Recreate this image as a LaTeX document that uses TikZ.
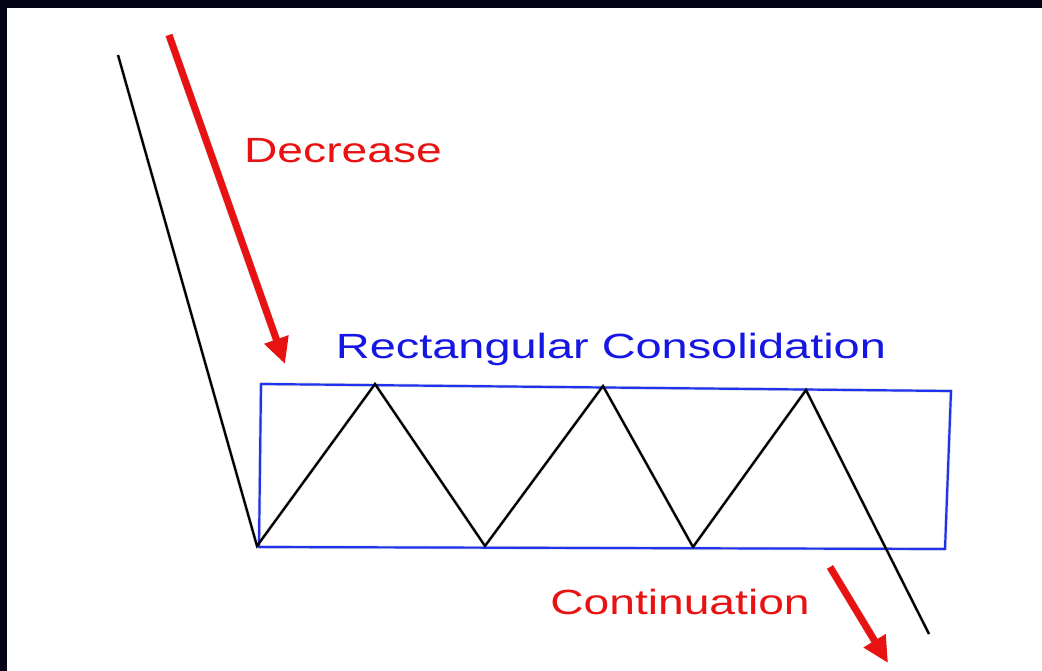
\documentclass[tikz,border=0pt]{standalone}
\usepackage{fontspec}
\setmainfont{Liberation Sans}
\usetikzlibrary{arrows.meta}
\definecolor{frameC}{RGB}{4,4,24}
\definecolor{redC}{RGB}{232,18,18}
\definecolor{blueT}{RGB}{22,22,228}
\definecolor{blueL}{RGB}{30,50,240}
\tikzset{
  priceline/.style={draw=black, line width=2.3bp, line join=miter},
  shadowline/.style={draw=black!35, line width=3.5bp, opacity=0.35, line join=round},
  rangebox/.style={draw=blueL, line width=2.2bp},
  trendarrow/.style={draw=redC, line width=7bp, -{Triangle[length=26bp,width=24bp]}},
  arrowshadow/.style={draw=black!40, opacity=0.3, line width=8bp, -{Triangle[length=26bp,width=24bp]}},
  redlabel/.style={text=redC, font=\fontsize{35bp}{40bp}\selectfont, inner sep=0pt},
  bluelabel/.style={text=blueT, font=\fontsize{35bp}{40bp}\selectfont, inner sep=0pt},
}
\begin{document}
\begin{tikzpicture}[x=1bp,y=-1bp]
\useasboundingbox (0,0) rectangle (1042,671);
\fill[white] (0,0) rectangle (1042,671);
\fill[frameC] (0,0) rectangle (1042,8);
\fill[frameC] (0,0) rectangle (7,671);
% price path points
\coordinate (p0) at (118,55);
\coordinate (p1) at (257,546);
\coordinate (p2) at (375,384);
\coordinate (p3) at (485,546);
\coordinate (p4) at (603,386);
\coordinate (p5) at (693,547);
\coordinate (p6) at (806,390);
\coordinate (p7) at (929,634);
% box corners
\coordinate (b1) at (261,384);
\coordinate (b2) at (951,391);
\coordinate (b3) at (945,549);
\coordinate (b4) at (259,547);
% arrows
\coordinate (a1s) at (169,35);
\coordinate (a1e) at (285,364);
\coordinate (a2s) at (830,567);
\coordinate (a2e) at (888,663);
% shadows
\begin{scope}[shift={(4,4)}]
\draw[shadowline] (p0) -- (p1) -- (p2) -- (p3) -- (p4) -- (p5) -- (p6) -- (p7);
\draw[shadowline] (b1) -- (b2) -- (b3) -- (b4) -- cycle;
\draw[arrowshadow] (a1s) -- (a1e);
\draw[arrowshadow] (a2s) -- (a2e);
\end{scope}
% box
\draw[rangebox] (b1) -- (b2) -- (b3) -- (b4) -- cycle;
% price path
\draw[priceline] (p0) -- (p1) -- (p2) -- (p3) -- (p4) -- (p5) -- (p6) -- (p7);
% arrows
\draw[trendarrow] (a1s) -- (a1e);
\draw[trendarrow] (a2s) -- (a2e);
% labels
\node[redlabel, anchor=base] (dec) at (343,163) {\scalebox{1.32}[1]{Decrease}};
\node[bluelabel, anchor=base] (rect) at (611,358) {\scalebox{1.34}[1]{Rectangular Consolidation}};
\node[redlabel, anchor=base] (cont) at (680,614) {\scalebox{1.32}[1]{Continuation}};
\end{tikzpicture}
\end{document}
